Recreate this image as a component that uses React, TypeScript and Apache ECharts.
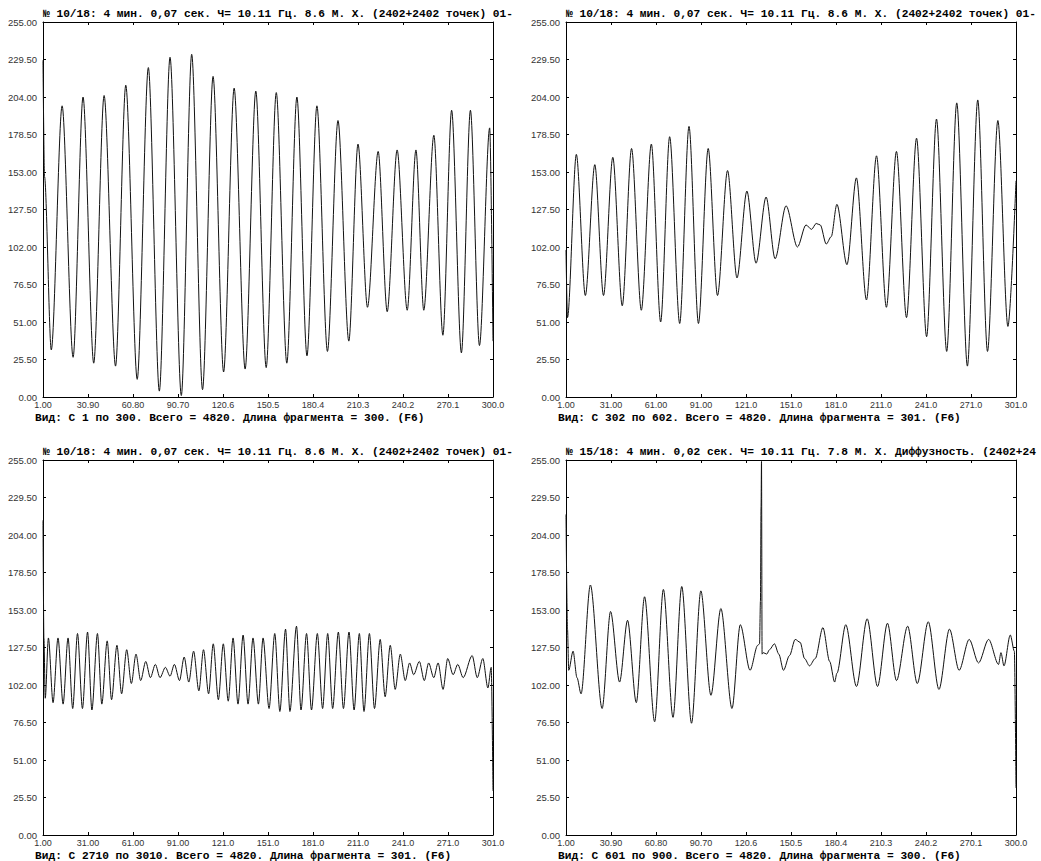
import React, { useEffect, useRef } from "react";
import * as echarts from "echarts";

const titleA = "№ 10/18: 4 мин. 0,07 сек. Ч= 10.11 Гц. 8.6 М. Х. (2402+2402 точек) 01-";
const titleB = "№ 15/18: 4 мин. 0,02 сек. Ч= 10.11 Гц. 7.8 М. Х. Диффузность. (2402+24";

const footer1 = "Вид: С 1 по 300. Всего = 4820. Длина фрагмента = 300. (F6)";
const footer2 = "Вид: С 302 по 602. Всего = 4820. Длина фрагмента = 301. (F6)";
const footer3 = "Вид: С 2710 по 3010. Всего = 4820. Длина фрагмента = 301. (F6)";
const footer4 = "Вид: С 601 по 900. Всего = 4820. Длина фрагмента = 300. (F6)";

// Panel 1: samples 1..300
const panel1Samples = [1, 2, 6.5, 13.7, 21, 27.6, 34.7, 41.6, 49.2, 56, 63.6, 71, 78.3, 85.4, 92.9, 99.8, 107, 114, 121, 128, 135.3, 142.4, 149.3, 156, 163, 169.7, 176.4, 183, 190, 197, 204.2, 210.3, 216.6, 223.7, 229.7, 236.3, 243, 248.8, 254, 260.7, 266.7, 272.5, 279, 285, 291, 297.8, 300];
const panel1Values = [229, 150, 32, 198, 27, 204, 23, 205, 21, 212, 12, 224, 4, 231, 1, 233, 5, 218, 17, 210, 19, 208, 20, 207, 23, 204, 28, 198, 31, 188, 38, 172, 61, 167, 58, 168, 59, 168, 59, 178, 42, 195, 30, 195, 35, 183, 38];

// Panel 2: samples 1..301
const panel2Samples = [1, 2, 7.9, 13.9, 20.2, 26, 32.2, 38.5, 44.7, 51.2, 57.9, 64.1, 70.1, 76.8, 83, 89.3, 95.8, 102, 108.7, 115, 121.6, 127.7, 134.4, 140.4, 147.7, 155.3, 161, 164.7, 167.8, 170.5, 174.5, 177.8, 181.6, 188.3, 194.6, 201.3, 208, 214.6, 221.3, 228, 234.7, 241.4, 248, 254.8, 261.5, 268.6, 275.5, 282, 288.9, 295.6, 301];
const panel2Values = [100, 54, 165, 69, 158, 69, 163, 62, 169, 59, 172, 51, 177, 50, 184, 50, 169, 69, 154, 81, 140, 91, 136, 94, 130, 102, 117, 114, 118, 117, 104, 109, 131, 90, 149, 66, 164, 61, 167, 54, 176, 41, 189, 31, 200, 21, 202, 31, 188, 48, 147];

// Panel 3: samples 1..301
const panel3Samples = [1, 1.6, 2.5, 4.6, 7.7, 11, 14.4, 17.7, 20.8, 24, 27.3, 30.7, 33.6, 37.3, 40.2, 43.8, 46.7, 50.3, 53.4, 56.8, 59.9, 63, 66.1, 69.5, 72.6, 75.9, 79, 82.6, 85.7, 88.6, 92, 95.1, 98.2, 101.4, 104.9, 108, 111.4, 114.5, 117.9, 121.2, 124.5, 127.7, 131, 134.4, 137.7, 141, 144.6, 147.7, 151.7, 155.5, 158.9, 162.7, 165.6, 170, 173, 176.7, 180, 183.9, 187.4, 190.8, 194.1, 197.9, 201.3, 205, 208.4, 211.9, 215, 218.6, 222, 225.8, 229.1, 232.5, 235.8, 239.2, 242.5, 245.4, 248.1, 251.9, 255.2, 258.1, 261.5, 264.4, 267.7, 270.8, 274.4, 277.5, 281.1, 287.1, 290.5, 294.2, 297.6, 299.8, 301];
const panel3Values = [214, 134, 93, 134, 90, 134, 89, 134, 86, 137, 86, 138, 85, 137, 89, 132, 92, 129, 96, 126, 103, 123, 105, 118, 107, 116, 107, 114, 108, 116, 105, 121, 104, 125, 98, 126, 96, 130, 92, 130, 91, 134, 89, 136, 89, 134, 89, 134, 86, 137, 84, 140, 84, 142, 85, 137, 85, 137, 86, 137, 86, 138, 86, 138, 85, 137, 84, 137, 86, 133, 94, 129, 99, 123, 105, 117, 109, 118, 105, 117, 107, 117, 99, 120, 109, 116, 107, 122, 107, 120, 100, 114, 30];

// Panel 4: samples 1..300
const panel4Samples = [1, 2, 2.8, 5.7, 8.3, 11, 17.2, 25, 30.6, 36.6, 41.9, 47.7, 53.2, 59.9, 65.7, 72.1, 77.9, 84.4, 90.6, 97.3, 103.9, 111.3, 116.8, 123.3, 128.4, 129.6, 130.2, 130.6, 130.9, 131.3, 132.1, 134.4, 136.2, 139.5, 142.4, 145.5, 149.5, 153.3, 156.6, 159.5, 162.8, 166.6, 171.7, 176.2, 179.5, 181, 186.9, 194, 201.1, 208, 214.6, 220.6, 228, 234.4, 241.7, 248.8, 255.8, 262.2, 268.9, 275.1, 281.8, 288.4, 290, 292, 296.2, 298.9, 300];
const panel4Values = [218, 140, 112, 125, 107, 96, 170, 86, 152, 104, 146, 90, 162, 77, 167, 80, 169, 76, 166, 95, 154, 86, 143, 112, 129, 130, 159, 223, 254, 123, 124, 123, 126, 130, 123, 112, 122, 133, 131, 120, 115, 120, 141, 118, 104, 110, 143, 101, 147, 101, 144, 105, 142, 103, 145, 99, 140, 112, 133, 117, 133, 116, 124, 115, 136, 125, 32];

const yMin = 0;
const yMax = 255;
const yStep = 25.5;

const PW = 450;
const PH = 375;

const panels = [
  { left: 43, top: 22, xMax: 299, xStep: 29.9, samples: panel1Samples, values: panel1Values, title: titleA, footer: footer1 },
  { left: 566, top: 22, xMax: 300, xStep: 30, samples: panel2Samples, values: panel2Values, title: titleA, footer: footer2 },
  { left: 43, top: 460, xMax: 300, xStep: 30, samples: panel3Samples, values: panel3Values, title: titleA, footer: footer3 },
  { left: 566, top: 460, xMax: 299, xStep: 29.9, samples: panel4Samples, values: panel4Values, title: titleB, footer: footer4 },
];

const fmtX = (v: number) => {
  const r = Math.round((v + 1) * 100) / 100;
  return r < 100 ? r.toFixed(2) : r.toFixed(1);
};

const TEXT_FONT = 'bold 11.2px "Liberation Mono", "DejaVu Sans Mono", monospace';
const LABEL_FONT_FAMILY = '"Liberation Sans", Arial, sans-serif';

export default function App() {
  const ref = useRef<HTMLDivElement>(null);

  useEffect(() => {
    if (!ref.current) return;
    const chart = echarts.init(ref.current, undefined, { renderer: "svg" });

    const grid: any[] = [];
    const xAxis: any[] = [];
    const yAxis: any[] = [];
    const series: any[] = [];
    const graphic: any[] = [];

    const axisLine = { show: true, onZero: false, lineStyle: { color: "#000", width: 1 } };
    const axisTick = { show: true, inside: true, length: 3, lineStyle: { color: "#000", width: 1 } };

    panels.forEach((p, i) => {
      grid.push({ left: p.left, top: p.top, width: PW, height: PH, show: false });
      xAxis.push({
        type: "value", gridIndex: i, position: "bottom", min: 0, max: p.xMax, interval: p.xStep,
        axisLine, axisTick,
        axisLabel: {
          show: true, fontSize: 9, fontFamily: LABEL_FONT_FAMILY, color: "#333", margin: 3,
          showMinLabel: true, showMaxLabel: true, formatter: (v: number) => fmtX(v),
        },
        splitLine: { show: false },
      });
      xAxis.push({
        type: "value", gridIndex: i, position: "top", min: 0, max: p.xMax, interval: p.xStep,
        axisLine, axisTick, axisLabel: { show: false }, splitLine: { show: false },
      });
      yAxis.push({
        type: "value", gridIndex: i, position: "left", min: yMin, max: yMax, interval: yStep,
        axisLine, axisTick,
        axisLabel: {
          show: true, fontSize: 9.5, fontFamily: LABEL_FONT_FAMILY, color: "#333", margin: 6,
          formatter: (v: number) => v.toFixed(2),
        },
        splitLine: { show: false },
      });
      yAxis.push({
        type: "value", gridIndex: i, position: "right", min: yMin, max: yMax, interval: yStep,
        axisLine, axisTick, axisLabel: { show: false }, splitLine: { show: false },
      });
      series.push({
        type: "line",
        xAxisIndex: 2 * i,
        yAxisIndex: 2 * i,
        data: p.samples.map((s, k) => [s - 1, p.values[k]]),
        showSymbol: false,
        symbol: "none",
        smooth: 0.3,
        smoothMonotone: "x",
        clip: true,
        silent: true,
        lineStyle: { color: "#111", width: 1 },
      });
      graphic.push({
        type: "text", x: p.left, y: p.top - 8, silent: true,
        style: { text: p.title, font: TEXT_FONT, fill: "#000", verticalAlign: "middle", align: "left" },
      });
      graphic.push({
        type: "text", x: p.left - 8, y: p.top + PH + 21, silent: true,
        style: { text: p.footer, font: TEXT_FONT, fill: "#000", verticalAlign: "middle", align: "left" },
      });
    });

    chart.setOption({
      animation: false,
      backgroundColor: "#fff",
      grid,
      xAxis,
      yAxis,
      series,
      graphic,
    });

    return () => chart.dispose();
  }, []);

  return (
    <div
      ref={ref}
      style={{ position: "absolute", left: 0, top: 0, width: 1041, height: 861, background: "#fff" }}
    />
  );
}
